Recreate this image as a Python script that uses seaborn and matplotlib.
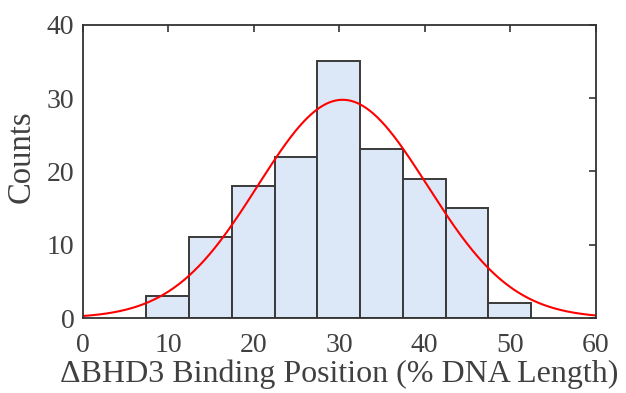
import numpy as np
import pandas as pd
import matplotlib
matplotlib.use("Agg")
import matplotlib.pyplot as plt
import seaborn as sns

# Data
bin_edges = [7.46, 12.46, 17.46, 22.46, 27.46, 32.46, 37.46, 42.46, 47.46, 52.46]
counts = [3, 11, 18, 22, 35, 23, 19, 15, 2]
fit_mu = 30.4
fit_sigma = 9.92
x_ticks = [0, 10, 20, 30, 40, 50, 60]
y_ticks = [0, 10, 20, 30, 40]

centers = [(a + b) / 2 for a, b in zip(bin_edges[:-1], bin_edges[1:])]
df = pd.DataFrame({"pos": centers, "count": counts})

sns.set_theme(style="white")
plt.rcParams["font.family"] = ["Liberation Serif", "DejaVu Serif"]

text_col = "#404040"
fig = plt.figure(figsize=(6.26, 3.93), dpi=100)
ax = fig.add_axes([82.7 / 626, 1 - 318 / 393, 513 / 626, 293.3 / 393])

sns.histplot(data=df, x="pos", weights="count", bins=bin_edges, ax=ax,
             color="#dce8f8", edgecolor="#3a3a3a", linewidth=1.4, alpha=1.0)

# Fitted normal curve scaled to counts
width = bin_edges[1] - bin_edges[0]
total = sum(counts)
xs = np.linspace(0, 60, 400)
ys = total * width / (fit_sigma * np.sqrt(2 * np.pi)) * np.exp(-0.5 * ((xs - fit_mu) / fit_sigma) ** 2)
sns.lineplot(x=xs, y=ys, ax=ax, color="#ff0000", linewidth=1.5)

ax.set_xlim(0, 60)
ax.set_ylim(0, 40)
ax.set_xticks(x_ticks)
ax.set_yticks(y_ticks)
ax.tick_params(direction="in", top=True, right=True, length=5, width=1.2,
               colors="#333333", labelcolor=text_col, labelsize=20, pad=6)
ax.tick_params(axis="x", pad=11)
for s in ax.spines.values():
    s.set_visible(True)
    s.set_color("#333333")
    s.set_linewidth(1.3)

ax.set_xlabel("ΔBHD3 Binding Position (% DNA Length)", fontsize=23, color=text_col, labelpad=1)
ax.set_ylabel("Counts", fontsize=23.5, color=text_col)
ax.yaxis.set_label_coords(-46 / 513, (318 - 157) / 293.3)

fig.savefig("out.png", dpi=100)
